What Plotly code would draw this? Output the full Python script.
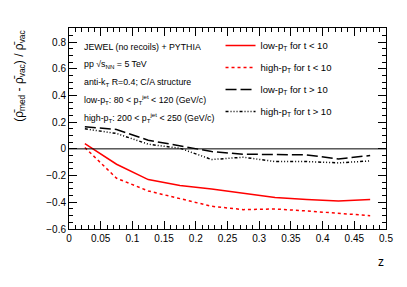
import plotly.graph_objects as go

z = [0.025, 0.075, 0.125, 0.175, 0.225, 0.275, 0.325, 0.375, 0.425, 0.475]
low_lt10 = [0.04, -0.115, -0.23, -0.275, -0.30, -0.33, -0.365, -0.38, -0.39, -0.38]
high_lt10 = [0.01, -0.22, -0.315, -0.375, -0.43, -0.455, -0.45, -0.465, -0.48, -0.50]
low_gt10 = [0.165, 0.145, 0.065, 0.02, -0.02, -0.04, -0.04, -0.045, -0.075, -0.05]
high_gt10 = [0.15, 0.115, 0.035, 0.005, -0.08, -0.0625, -0.095, -0.095, -0.105, -0.09]

names = ["low-p<sub>T</sub> for t < 10", "high-p<sub>T</sub> for t < 10",
         "low-p<sub>T</sub> for t > 10", "high-p<sub>T</sub> for t > 10"]
info_lines = [
    "JEWEL (no recoils) + PYTHIA",
    "pp √s<sub>NN</sub> = 5 TeV",
    "anti-k<sub>T</sub> R=0.4; C/A structure",
    "low-p<sub>T</sub>: 80 < p<sub>T</sub><sup>jet</sup> < 120 (GeV/c)",
    "high-p<sub>T</sub>: 200 < p<sub>T</sub><sup>jet</sup> < 250 (GeV/c)",
]

FONT = "Liberation Sans, Arial, sans-serif"
fig = go.Figure()
series = [low_lt10, high_lt10, low_gt10, high_gt10]
styles = [("#ff0000", "solid"), ("#ff0000", "dot"), ("#000000", "11px,4px"),
          ("#000000", "3px,2px,1px,2px,1px,2px,1px,2px")]
for i, (ys, (c, d)) in enumerate(zip(series, styles)):
    fig.add_trace(go.Scatter(x=z, y=ys, mode="lines", name=names[i],
                             legendgroup=f"g{i}",
                             line=dict(color=c, dash=d, width=1.5)))

axis_common = dict(showline=True, linecolor="black", linewidth=1, mirror="allticks",
                   ticks="inside", ticklen=8, tickcolor="black", showgrid=False,
                   zeroline=False, tickfont=dict(family=FONT, size=10, color="black"))
fig.update_xaxes(range=[0, 0.5], dtick=0.05, tick0=0,
                 minor=dict(ticks="inside", dtick=0.01, ticklen=4, tickcolor="black", showgrid=False),
                 **axis_common)
fig.update_yaxes(range=[-0.6, 0.905], dtick=0.2, tick0=0,
                 minor=dict(ticks="inside", dtick=0.05, ticklen=4, tickcolor="black", showgrid=False),
                 **axis_common)

fig.add_shape(type="line", xref="x domain", yref="y", x0=0, x1=1, y0=0, y1=0,
              line=dict(color="black", width=1))

for k, t in enumerate(info_lines):
    fig.add_annotation(text=t, xref="paper", yref="paper", x=0.042, y=0.905 - k * 0.087,
                       xanchor="left", yanchor="middle", showarrow=False,
                       font=dict(family=FONT, size=8.8, color="black"))

fig.add_annotation(text="(ρ̄<sub>med</sub> - ρ̄<sub>vac</sub>) / ρ̄<sub>vac</sub>",
                   xref="paper", yref="paper", x=-0.155, y=1.0, xanchor="center", yanchor="top",
                   textangle=-90, showarrow=False,
                   font=dict(family=FONT, size=12, color="black"))
fig.add_annotation(text="z", xref="paper", yref="paper", x=1.0, y=-0.164,
                   xanchor="right", yanchor="middle", showarrow=False,
                   font=dict(family=FONT, size=12, color="black"))

fig.update_layout(
    width=407, height=287,
    margin=dict(l=69, r=21, t=28, b=58),
    paper_bgcolor="white", plot_bgcolor="white",
    showlegend=True,
    legend=dict(x=0.478, y=0.985, xanchor="left", yanchor="top",
                bgcolor="rgba(0,0,0,0)", itemwidth=30, tracegroupgap=3,
                font=dict(family=FONT, size=9.5, color="black")),
)

fig.write_html("out.html", config={"displayModeBar": False},
               post_script="document.body.style.margin='0';")
